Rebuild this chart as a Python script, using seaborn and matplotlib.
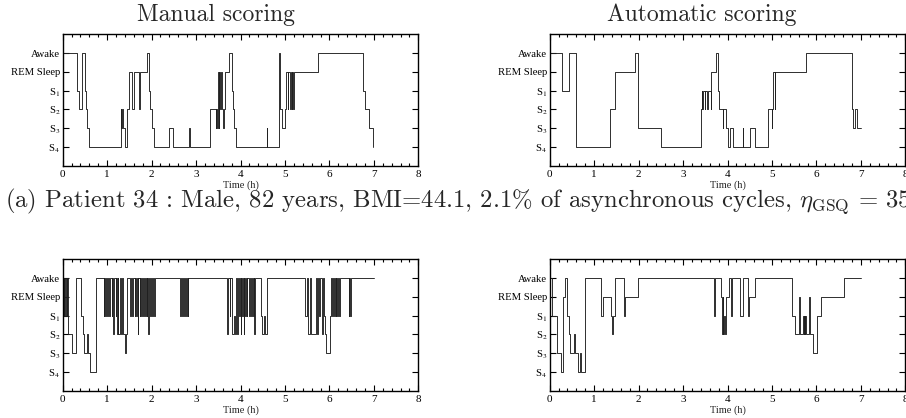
import matplotlib
matplotlib.use("Agg")
import matplotlib.pyplot as plt
import matplotlib.ticker as mticker
import pandas as pd
import seaborn as sns

# sleep stage codes: 0=S4, 1=S3, 2=S2, 3=S1, 4=REM, 5=Awake
stage_labels = ["S$_4$", "S$_3$", "S$_2$", "S$_1$", "REM Sleep", "Awake"]

# patient 34, manual scoring (step starts, hours)
manual_34_t = [0, 0.33, 0.375, 0.43, 0.50, 0.53, 0.555, 0.59, 1.31, 1.32, 1.33, 1.35,
               1.40, 1.45, 1.50, 1.57, 1.61, 1.725, 1.74, 1.89, 1.94, 1.97, 2.00, 2.05,
               2.40, 2.49, 2.85, 2.86, 3.31, 3.44, 3.455, 3.48, 3.49, 3.51, 3.525, 3.55,
               3.57, 3.59, 3.61, 3.625, 3.66, 3.75, 3.80, 3.83, 3.86, 3.90, 4.59, 4.60,
               4.87, 4.89, 4.94, 5.01, 5.03, 5.06, 5.075, 5.11, 5.125, 5.15, 5.165, 5.18,
               5.195, 5.75, 6.76, 6.80, 6.90, 6.97, 6.975]
manual_34_s = [5, 3, 2, 5, 3, 2, 1, 0, 2, 1, 2, 1,
               0, 2, 4, 2, 4, 2, 4, 5, 3, 2, 1, 0,
               1, 0, 1, 0, 2, 1, 2, 1, 4, 1, 4, 2,
               4, 2, 1, 2, 4, 5, 3, 2, 1, 0, 1, 0,
               5, 2, 1, 2, 4, 2, 4, 2, 4, 2, 4, 2,
               4, 5, 3, 2, 1, 0, 0]

# patient 34, automatic scoring
auto_34_t = [0, 0.28, 0.43, 0.60, 1.36, 1.47, 1.92, 1.99, 2.50, 3.40, 3.42, 3.435,
             3.45, 3.49, 3.50, 3.55, 3.56, 3.62, 3.63, 3.75, 3.79, 3.82, 3.89, 3.91,
             3.97, 4.02, 4.06, 4.12, 4.34, 4.35, 4.51, 4.61, 4.91, 5.00, 5.01, 5.02,
             5.06, 5.07, 5.76, 6.79, 6.82, 6.87, 6.91, 7.00]
auto_34_s = [5, 3, 5, 0, 2, 4, 5, 1, 0, 2, 3, 2,
             3, 2, 3, 2, 3, 2, 4, 5, 3, 2, 1, 2,
             1, 0, 1, 0, 1, 0, 1, 0, 2, 1, 2, 4,
             2, 4, 5, 2, 1, 2, 1, 1]

# patient 2, manual scoring
manual_2_t = [0, 0.02, 0.035, 0.06, 0.075, 0.09, 0.10, 0.11, 0.20, 0.31, 0.41, 0.46,
              0.49, 0.54, 0.57, 0.61, 0.76,
              0.92, 0.935, 0.96, 0.975, 1.00, 1.02, 1.05, 1.065, 1.10, 1.11, 1.13, 1.16,
              1.19, 1.20, 1.22, 1.235, 1.25, 1.28, 1.29, 1.31, 1.33, 1.35, 1.41, 1.42,
              1.44,
              1.52, 1.535, 1.57, 1.585, 1.62, 1.635, 1.66, 1.675, 1.69, 1.70, 1.73, 1.745,
              1.77, 1.785, 1.81, 1.825, 1.85, 1.865, 1.89, 1.905, 1.93, 1.94, 1.97, 1.985,
              2.02, 2.035, 2.06, 2.07,
              2.64, 2.655, 2.68, 2.70, 2.73, 2.745, 2.78, 2.80, 2.81, 2.83,
              3.69, 3.72, 3.76, 3.775, 3.80, 3.86, 3.88, 3.91, 3.93, 3.95, 3.97, 3.985,
              4.00, 4.02, 4.04, 4.055, 4.07, 4.085, 4.10, 4.115, 4.14, 4.155, 4.20, 4.215,
              4.24, 4.255, 4.28, 4.295, 4.31, 4.32,
              4.45, 4.49, 4.53, 4.545, 4.60,
              5.45, 5.50, 5.52, 5.57, 5.59, 5.70, 5.72, 5.74, 5.77, 5.79, 5.84, 5.85,
              5.87, 5.89, 5.93, 6.02, 6.035, 6.06, 6.08, 6.10, 6.115, 6.14, 6.155, 6.18,
              6.195, 6.22, 6.235, 6.43, 6.445, 6.47, 6.485, 7.00]
manual_2_s = [5, 3, 5, 3, 5, 3, 5, 2, 1, 5, 3, 2,
              1, 2, 1, 0, 5,
              3, 5, 3, 5, 3, 5, 3, 5, 3, 5, 2, 5,
              3, 5, 2, 5, 2, 3, 5, 2, 5, 2, 1, 2,
              5,
              3, 5, 3, 5, 3, 5, 3, 5, 2, 5, 3, 5,
              3, 5, 3, 5, 3, 5, 3, 5, 2, 5, 3, 5,
              3, 5, 3, 5,
              3, 5, 3, 5, 3, 5, 3, 5, 3, 5,
              2, 5, 3, 5, 2, 3, 2, 5, 2, 5, 3, 5,
              2, 5, 3, 5, 2, 5, 3, 5, 3, 5, 3, 5,
              3, 5, 3, 5, 2, 5,
              3, 2, 3, 2, 5,
              3, 5, 2, 5, 2, 5, 2, 5, 3, 5, 2, 5,
              3, 2, 1, 3, 5, 3, 5, 3, 5, 3, 5, 3,
              5, 3, 5, 3, 5, 3, 5, 5]

# patient 2, automatic scoring
auto_2_t = [0, 0.05, 0.16, 0.26, 0.29, 0.345, 0.40, 0.43, 0.46, 0.55, 0.57, 0.645,
            0.68, 0.70, 0.79, 1.15, 1.19, 1.38, 1.40, 1.42, 1.46, 1.68, 1.70, 1.98,
            3.70, 3.72, 3.85, 3.88, 3.90, 3.91, 3.93, 3.94, 3.96, 4.03, 4.07, 4.10,
            4.28, 4.35, 4.47, 4.48, 4.61, 5.44, 5.51, 5.60, 5.62, 5.70, 5.71, 5.72,
            5.74, 5.75, 5.77, 5.84, 5.86, 5.92, 6.02, 6.10, 6.62, 7.00]
auto_2_s = [5, 3, 1, 0, 4, 5, 3, 2, 1, 2, 1, 0,
            1, 0, 5, 3, 4, 3, 2, 3, 5, 3, 4, 5,
            3, 5, 4, 2, 4, 2, 3, 2, 4, 5, 3, 5,
            3, 5, 3, 4, 5, 3, 2, 4, 2, 3, 2, 3,
            2, 3, 2, 4, 2, 1, 3, 4, 5, 5]

panels = [
    (manual_34_t, manual_34_s),
    (auto_34_t, auto_34_s),
    (manual_2_t, manual_2_s),
    (auto_2_t, auto_2_s),
]

sns.set_style("ticks")
plt.rcParams["font.family"] = ["Liberation Serif", "DejaVu Serif"]
plt.rcParams["mathtext.fontset"] = "stix"

W, H = 906, 418
fig = plt.figure(figsize=(W / 100, H / 100), dpi=100)

# axes boxes in pixels: left, top, right, bottom
boxes = [
    (62.7, 34.3, 418.3, 165.7),
    (549.7, 34.3, 905.3, 165.7),
    (62.7, 259.3, 418.3, 390.7),
    (549.7, 259.3, 905.3, 390.7),
]

for (t, s), (l, top, r, b) in zip(panels, boxes):
    ax = fig.add_axes([l / W, 1 - b / H, (r - l) / W, (b - top) / H])
    df = pd.DataFrame({"time": t, "stage": s})
    sns.lineplot(data=df, x="time", y="stage", ax=ax, estimator=None, sort=False,
                 drawstyle="steps-post", color="#202020", linewidth=0.65)
    ax.set_xlim(0, 8)
    ax.set_ylim(-1, 6)
    ax.set_yticks(range(6))
    ax.set_yticklabels(stage_labels)
    ax.xaxis.set_major_locator(mticker.MultipleLocator(1))
    ax.xaxis.set_minor_locator(mticker.MultipleLocator(0.2))
    ax.tick_params(axis="both", which="both", direction="in", top=True, right=True,
                   width=0.8, colors="black")
    ax.tick_params(axis="both", which="major", length=4.3)
    ax.tick_params(axis="x", which="minor", length=2.2)
    ax.tick_params(axis="x", which="major", labelsize=8, pad=3.0)
    ax.tick_params(axis="y", which="major", labelsize=7.7, pad=1.8)
    for sp in ax.spines.values():
        sp.set_visible(True)
        sp.set_linewidth(1.0)
        sp.set_color("black")
    ax.set_xlabel("Time (h)", fontsize=7.5, labelpad=1.2)
    ax.set_ylabel("")

fig.text(216 / W, 1 - 20.7 / H, "Manual scoring", family="cmr10", fontsize=17,
         ha="center", va="baseline")
fig.text(702 / W, 1 - 20.7 / H, "Automatic scoring", family="cmr10", fontsize=17,
         ha="center", va="baseline")
fig.text(5 / W, 1 - 207 / H,
         r"(a) Patient 34 : Male, 82 years, BMI=44.1, 2.1% of asynchronous cycles, "
         r"$\eta_{\rm GSQ}$ = 35",
         family="cmr10", math_fontfamily="cm", fontsize=17.8, ha="left", va="baseline")

fig.savefig("out.png", dpi=100)
